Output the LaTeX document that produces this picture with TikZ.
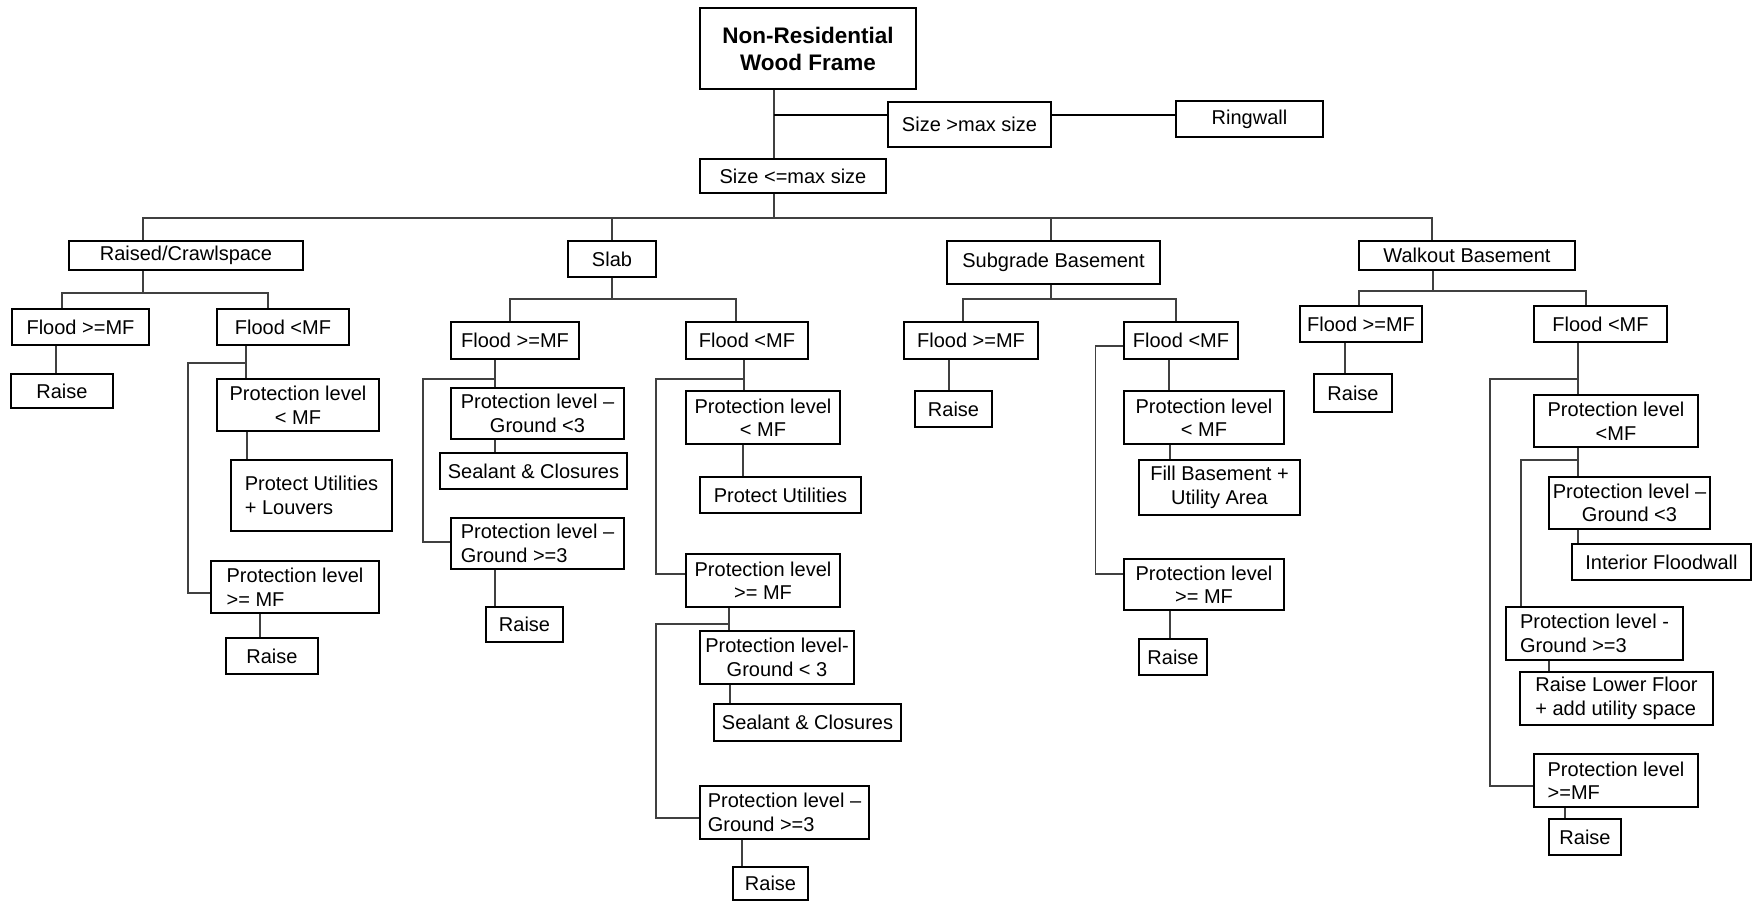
\documentclass[tikz,border=0pt]{standalone}
\usepackage{fontspec}
\setmainfont{Liberation Sans}
\tikzset{
    box/.style={rectangle, draw, line width=1.4pt, inner sep=2pt, align=center, font=\fontsize{20}{23.5}\selectfont},
    leftbox/.style={box, align=left},
    titlebox/.style={box, line width=1.6pt, font=\fontsize{22.5}{27}\selectfont\bfseries},
    line/.style={draw=black!75, line width=1.3pt},
    thickline/.style={draw=black, line width=2.8pt}
}

\begin{document}
\begin{tikzpicture}[x=1pt, y=-1pt]
    \useasboundingbox (0,0) rectangle (1760,903);

    % top level
    \node[titlebox, minimum width=216pt, minimum height=81pt] (title) at (808,48.5) {Non-Residential\\Wood Frame};
    \node[box, minimum width=163pt, minimum height=45pt] (size_gt) at (969.5,124.5) {Size >max size};
    \node[box, minimum width=147pt, minimum height=36pt] (ringwall) at (1249.5,119) {Ringwall};
    \node[box, minimum width=186pt, minimum height=34pt] (size_le) at (793,176) {Size <=max size};

    % foundation types
    \node[box, minimum width=234pt, minimum height=29pt] (raised) at (186,255.5) {Raised/Crawlspace};
    \node[box, minimum width=88pt, minimum height=36pt] (slab) at (612,259) {Slab};
    \node[box, minimum width=213pt, minimum height=43pt] (subgrade) at (1053.5,262.5) {Subgrade Basement};
    \node[box, minimum width=216pt, minimum height=29pt] (walkout) at (1467,255.5) {Walkout Basement};

    % raised/crawlspace
    \node[box, minimum width=137pt, minimum height=36pt] (rc_flood_hi) at (80.5,327) {Flood >=MF};
    \node[box, minimum width=132pt, minimum height=36pt] (rc_flood_lo) at (283,327) {Flood <MF};
    \node[box, minimum width=102pt, minimum height=34pt] (rc_raise) at (62,391) {Raise};
    \node[box, minimum width=162pt, minimum height=52pt] (rc_pl_lo) at (298,405) {Protection level\\< MF};
    \node[leftbox, minimum width=161pt, minimum height=71pt] (rc_utils) at (311.5,495.5) {Protect Utilities\\+ Louvers};
    \node[leftbox, minimum width=168pt, minimum height=52pt] (rc_pl_hi) at (295,587) {Protection level\\>= MF};
    \node[box, minimum width=92pt, minimum height=36pt] (rc_raise2) at (272,656) {Raise};

    % slab
    \node[box, minimum width=128pt, minimum height=37pt] (sl_flood_hi) at (515,340.5) {Flood >=MF};
    \node[box, minimum width=122pt, minimum height=37pt] (sl_flood_lo) at (747,340.5) {Flood <MF};
    \node[box, minimum width=173pt, minimum height=51pt] (sl_plg_lo) at (537.5,413.5) {Protection level --\\Ground <3};
    \node[box, minimum width=187pt, minimum height=36pt] (sl_seal) at (533.5,471) {Sealant \& Closures};
    \node[leftbox, minimum width=173pt, minimum height=51pt] (sl_plg_hi) at (537.5,543.5) {Protection level --\\Ground >=3};
    \node[box, minimum width=77pt, minimum height=35pt] (sl_raise) at (524.5,624.5) {Raise};
    \node[box, minimum width=154pt, minimum height=53pt] (sl_pl_lo) at (763,417.5) {Protection level\\< MF};
    \node[box, minimum width=161pt, minimum height=36pt] (sl_utils) at (780.5,495) {Protect Utilities};
    \node[box, minimum width=154pt, minimum height=53pt] (sl_pl_hi) at (763,580.5) {Protection level\\>= MF};
    \node[box, minimum width=154pt, minimum height=53pt] (sl_plg_lo2) at (777,657.5) {Protection level-\\Ground < 3};
    \node[box, minimum width=187pt, minimum height=37pt] (sl_seal2) at (807.5,722.5) {Sealant \& Closures};
    \node[leftbox, minimum width=169pt, minimum height=53pt] (sl_plg_hi2) at (784.5,812.5) {Protection level --\\Ground >=3};
    \node[box, minimum width=75pt, minimum height=33pt] (sl_raise2) at (770.5,883.5) {Raise};

    % subgrade basement
    \node[box, minimum width=134pt, minimum height=37pt] (sb_flood_hi) at (971,340.5) {Flood >=MF};
    \node[box, minimum width=77pt, minimum height=36pt] (sb_raise) at (953.5,409) {Raise};
    \node[box, minimum width=114pt, minimum height=37pt] (sb_flood_lo) at (1181,340.5) {Flood <MF};
    \node[box, minimum width=160pt, minimum height=53pt] (sb_pl_lo) at (1204,417.5) {Protection level\\< MF};
    \node[box, minimum width=161pt, minimum height=55pt] (sb_fill) at (1219.5,487.5) {Fill Basement +\\Utility Area};
    \node[box, minimum width=160pt, minimum height=51pt] (sb_pl_hi) at (1204,584.5) {Protection level\\>= MF};
    \node[box, minimum width=68pt, minimum height=36pt] (sb_raise2) at (1173,657) {Raise};

    % walkout basement
    \node[box, minimum width=122pt, minimum height=36pt] (wb_flood_hi) at (1361,324) {Flood >=MF};
    \node[box, minimum width=78pt, minimum height=38pt] (wb_raise) at (1353,393) {Raise};
    \node[box, minimum width=133pt, minimum height=36pt] (wb_flood_lo) at (1600.5,324) {Flood <MF};
    \node[box, minimum width=164pt, minimum height=52pt] (wb_pl_lo) at (1616,421) {Protection level\\<MF};
    \node[box, minimum width=161pt, minimum height=52pt] (wb_plg_lo) at (1629.5,503) {Protection level --\\Ground <3};
    \node[box, minimum width=179pt, minimum height=36pt] (wb_floodwall) at (1661.5,562) {Interior Floodwall};
    \node[leftbox, minimum width=177pt, minimum height=53pt] (wb_plg_hi) at (1594.5,633.5) {Protection level -\\Ground >=3};
    \node[leftbox, minimum width=193pt, minimum height=53pt] (wb_raise_lf) at (1616.5,698.5) {Raise Lower Floor\\+ add utility space};
    \node[leftbox, minimum width=164pt, minimum height=53pt] (wb_pl_hi) at (1616,780.5) {Protection level\\>=MF};
    \node[box, minimum width=72pt, minimum height=36pt] (wb_raise2) at (1585,837) {Raise};

    % junctions
    \coordinate (trunk) at (774,115);
    \coordinate (bus_main) at (774,218);
    \coordinate (rc_bus) at (143,293);
    \coordinate (rc_fork) at (246,363);
    \coordinate (sl_bus) at (612,299);
    \coordinate (sl_fork1) at (495,379);
    \coordinate (sl_fork2) at (744,379);
    \coordinate (sl_fork3) at (729,624);
    \coordinate (sb_bus) at (1051,299);
    \coordinate (wb_bus) at (1433,291);
    \coordinate (wb_fork1) at (1578,379);
    \coordinate (wb_fork2) at (1578,460);
    \coordinate (wb_fork3) at (1521,460);

    % lines, top
    \draw[line] (title.south -| trunk) -- (size_le.north -| trunk);
    \draw[thickline] (trunk) -- (trunk -| size_gt.west);
    \draw[thickline] (size_gt.east |- trunk) -- (ringwall.west |- trunk);
    \draw[line] (size_le.south -| bus_main) -- (bus_main);
    \draw[line] ([xshift=-43pt]raised.north) |- (bus_main) -| ([xshift=-35pt]walkout.north);
    \draw[line] (slab.north) -- (slab.north |- bus_main);
    \draw[line] (subgrade.north -| sb_bus) -- (sb_bus |- bus_main);

    % lines, raised/crawlspace
    \draw[line] (raised.south -| rc_bus) -- (rc_bus);
    \draw[line] ([xshift=-18.5pt]rc_flood_hi.north) |- (rc_bus) -| ([xshift=-15pt]rc_flood_lo.north);
    \draw[line] ([xshift=-24.5pt]rc_flood_hi.south) -- ([xshift=-6pt]rc_raise.north);
    \draw[line] (rc_flood_lo.south -| rc_fork) -- (rc_pl_lo.north -| rc_fork);
    \draw[line] (rc_fork) -- ++(-58,0) |- ([yshift=-6pt]rc_pl_hi.west);
    \draw[line] ([xshift=-51pt]rc_pl_lo.south) -- ([xshift=-64.5pt]rc_utils.north);
    \draw[line] ([xshift=-35pt]rc_pl_hi.south) -- ([xshift=-12pt]rc_raise2.north);

    % lines, slab
    \draw[line] (slab.south -| sl_bus) -- (sl_bus);
    \draw[line] ([xshift=-5pt]sl_flood_hi.north) |- (sl_bus) -| ([xshift=-11pt]sl_flood_lo.north);
    \draw[line] (sl_flood_hi.south -| sl_fork1) -- (sl_plg_lo.north -| sl_fork1);
    \draw[line] (sl_fork1) -- ++(-72,0) |- ([yshift=1.5pt]sl_plg_hi.west);
    \draw[line] ([xshift=-42.5pt]sl_plg_lo.south) -- ([xshift=-38.5pt]sl_seal.north);
    \draw[line] ([xshift=-42.5pt]sl_plg_hi.south) -- ([xshift=-29.5pt]sl_raise.north);
    \draw[line] (sl_flood_lo.south -| sl_fork2) -- (sl_pl_lo.north -| sl_fork2);
    \draw[line] (sl_fork2) -- ++(-88,0) |- ([yshift=6.5pt]sl_pl_hi.west);
    \draw[line] ([xshift=-20pt]sl_pl_lo.south) -- ([xshift=-37.5pt]sl_utils.north);
    \draw[line] (sl_pl_hi.south -| sl_fork3) -- (sl_plg_lo2.north -| sl_fork3);
    \draw[line] (sl_fork3) -- ++(-73,0) |- ([yshift=-5.5pt]sl_plg_hi2.west);
    \draw[line] ([xshift=-47pt]sl_plg_lo2.south) -- ([xshift=-77.5pt]sl_seal2.north);
    \draw[line] ([xshift=-42.5pt]sl_plg_hi2.south) -- ([xshift=-28.5pt]sl_raise2.north);

    % lines, subgrade basement
    \draw[line] (subgrade.south -| sb_bus) -- (sb_bus);
    \draw[line] ([xshift=-8pt]sb_flood_hi.north) |- (sb_bus) -| ([xshift=-5pt]sb_flood_lo.north);
    \draw[line] ([xshift=-22pt]sb_flood_hi.south) -- ([xshift=-4.5pt]sb_raise.north);
    \draw[line] ([xshift=-12pt]sb_flood_lo.south) -- ([xshift=-35pt]sb_pl_lo.north);
    \draw[line] ([yshift=-5.5pt]sb_flood_lo.west) -- ++(-28,0) |- ([yshift=10.5pt]sb_pl_hi.west);
    \draw[line] ([xshift=-34pt]sb_pl_lo.south) -- ([xshift=-49.5pt]sb_fill.north);
    \draw[line] ([xshift=-34pt]sb_pl_hi.south) -- ([xshift=-3pt]sb_raise2.north);

    % lines, walkout basement
    \draw[line] (walkout.south -| wb_bus) -- (wb_bus);
    \draw[line] ([xshift=-2pt]wb_flood_hi.north) |- (wb_bus) -| ([xshift=-14.5pt]wb_flood_lo.north);
    \draw[line] ([xshift=-16pt]wb_flood_hi.south) -- ([xshift=-8pt]wb_raise.north);
    \draw[line] (wb_flood_lo.south -| wb_fork1) -- (wb_pl_lo.north -| wb_fork1);
    \draw[line] (wb_fork1) -- ++(-88,0) |- ([yshift=-5.5pt]wb_pl_hi.west);
    \draw[line] (wb_pl_lo.south -| wb_fork2) -- (wb_plg_lo.north -| wb_fork2);
    \draw[line] (wb_fork2) -- (wb_fork3) -- (wb_plg_hi.north -| wb_fork3);
    \draw[line] ([xshift=-51.5pt]wb_plg_lo.south) -- ([xshift=-83.5pt]wb_floodwall.north);
    \draw[line] ([xshift=-45.5pt]wb_plg_hi.south) -- ([xshift=-67.5pt]wb_raise_lf.north);
    \draw[line] ([xshift=-51pt]wb_pl_hi.south) -- ([xshift=-20pt]wb_raise2.north);
\end{tikzpicture}
\end{document}
